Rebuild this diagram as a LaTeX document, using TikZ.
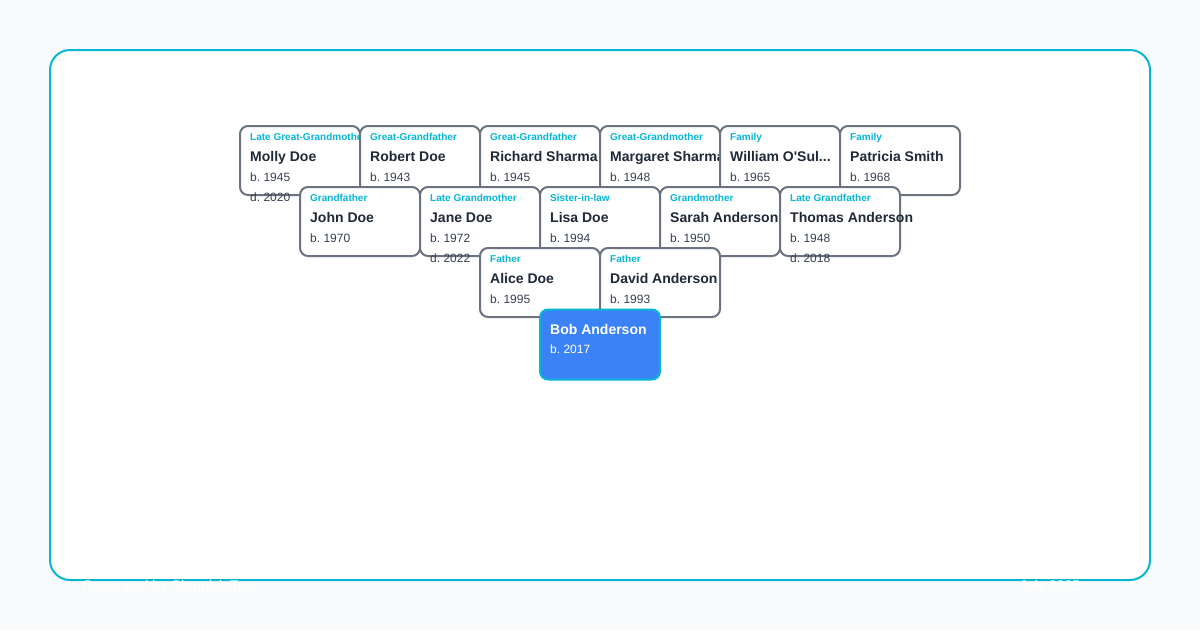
\documentclass[tikz,border=0pt]{standalone}
\usepackage{fontspec}
\setmainfont{Liberation Sans}[Ligatures=TeXOff]
\frenchspacing
\usetikzlibrary{positioning}
\definecolor{pagebg}{HTML}{F8FAFC}
\definecolor{framecyan}{HTML}{06B6D4}
\definecolor{cardline}{HTML}{6B7280}
\definecolor{nametext}{HTML}{1F2937}
\definecolor{datetext}{HTML}{374151}
\definecolor{selfblue}{HTML}{3B82F6}
\tikzset{
  % Specifications for style of nodes:
  base/.style = {
    rectangle,
    rounded corners=8pt,
    line width=2pt,
    inner sep=0pt,
    outer sep=0pt
  },
  card/.style = {
    base,
    draw=cardline,
    fill=white,
    minimum width=120pt,
    minimum height=69pt,
    node distance=0pt
  },
  selfcard/.style = {
    base,
    draw=framecyan,
    fill=selfblue,
    minimum width=120pt,
    minimum height=70pt
  },
  roletag/.style = {
    anchor=base west,
    inner sep=0pt,
    text=framecyan,
    font=\fontsize{10pt}{12pt}\selectfont\bfseries
  },
  fullname/.style = {
    anchor=base west,
    inner sep=0pt,
    text=nametext,
    font=\fontsize{14pt}{17pt}\selectfont\bfseries
  },
  lifedate/.style = {
    anchor=base west,
    inner sep=0pt,
    text=datetext,
    font=\fontsize{12pt}{14pt}\selectfont
  },
  footer/.style = {
    anchor=base west,
    inner sep=0pt,
    text=white,
    font=\fontsize{14pt}{17pt}\selectfont
  },
}
\def\member#1#2#3#4{
  \begin{scope}
    \node[roletag]  at ([xshift=10pt, yshift=-14pt]#1.north west) {#2};
    \node[fullname] at ([xshift=10pt, yshift=-35pt]#1.north west) {#3};
    \node[lifedate] at ([xshift=10pt, yshift=-55pt]#1.north west) {#4};
  \end{scope}
}
\def\died#1#2{
  \node[lifedate] at ([xshift=10pt, yshift=-75pt]#1.north west) {#2};
}

\begin{document}
\begin{tikzpicture}[x=1pt, y=-1pt]
    \useasboundingbox[fill=pagebg] (0,0) rectangle (1200,630);
    \draw[framecyan, line width=2pt, fill=white, rounded corners=20pt] (50,50) rectangle (1150,580);
    % Row of great-grandparents
    \node[card] (molly) at (300, 160.5) {};
    \member{molly}{Late Great-Grandmother}{Molly Doe}{b. 1945}
    \died{molly}{d. 2020}
    \node[card, right=of molly] (robert) {};
    \member{robert}{Great-Grandfather}{Robert Doe}{b. 1943}
    \node[card, right=of robert] (richard) {};
    \member{richard}{Great-Grandfather}{Richard Sharma}{b. 1945}
    \node[card, right=of richard] (margaret) {};
    \member{margaret}{Great-Grandmother}{Margaret Sharma}{b. 1948}
    \node[card, right=of margaret] (william) {};
    \member{william}{Family}{William O'Sul...}{b. 1965}
    \node[card, right=of william] (patricia) {};
    \member{patricia}{Family}{Patricia Smith}{b. 1968}
    % Row of grandparents
    \node[card] (john) at (360, 221.5) {};
    \member{john}{Grandfather}{John Doe}{b. 1970}
    \node[card, right=of john] (jane) {};
    \member{jane}{Late Grandmother}{Jane Doe}{b. 1972}
    \died{jane}{d. 2022}
    \node[card, right=of jane] (lisa) {};
    \member{lisa}{Sister-in-law}{Lisa Doe}{b. 1994}
    \node[card, right=of lisa] (sarah) {};
    \member{sarah}{Grandmother}{Sarah Anderson}{b. 1950}
    \node[card, right=of sarah] (thomas) {};
    \member{thomas}{Late Grandfather}{Thomas Anderson}{b. 1948}
    \died{thomas}{d. 2018}
    % Row of parents
    \node[card] (alice) at (540, 282.5) {};
    \member{alice}{Father}{Alice Doe}{b. 1995}
    \node[card, right=of alice] (david) {};
    \member{david}{Father}{David Anderson}{b. 1993}
    % Root person
    \node[selfcard] (bob) at (600, 344.5) {};
    \node[fullname, text=white] at ([xshift=10pt, yshift=-25pt]bob.north west) {Bob Anderson};
    \node[lifedate, text=white] at ([xshift=10pt, yshift=-44pt]bob.north west) {b. 2017};
    % Footer
    \node[footer] (credit) at (82, 590) {Generated by ChronicleTree};
    \node[footer] (stamp) at (1020, 590) {July 2025};
  \end{tikzpicture}
\end{document}
